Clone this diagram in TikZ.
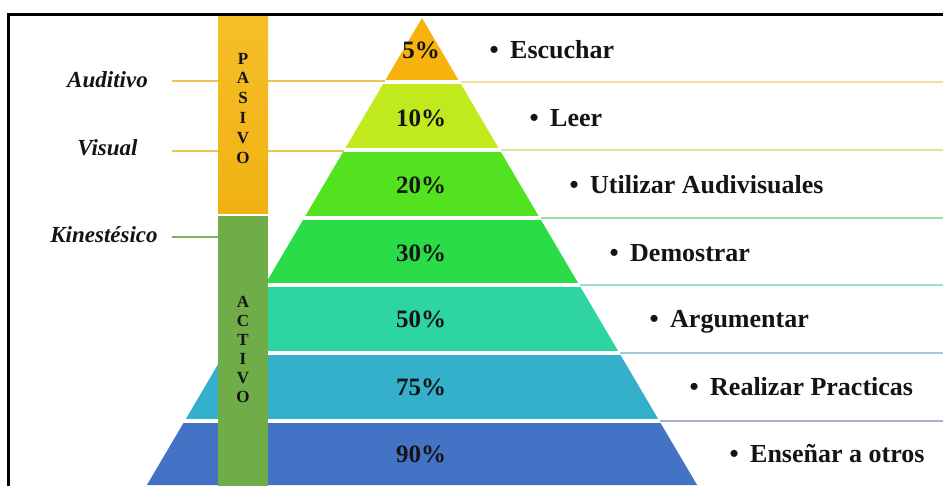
\documentclass[tikz,border=0pt]{standalone}
\usepackage{fontspec}
\setmainfont{Liberation Serif}
\definecolor{bA}{RGB}{247,178,12}
\definecolor{bB}{RGB}{192,234,30}
\definecolor{bC}{RGB}{82,226,32}
\definecolor{bD}{RGB}{42,220,72}
\definecolor{bE}{RGB}{46,212,162}
\definecolor{bF}{RGB}{52,176,202}
\definecolor{bG}{RGB}{68,114,196}
\definecolor{lA}{RGB}{242,222,150}
\definecolor{lB}{RGB}{205,236,160}
\definecolor{lC}{RGB}{155,222,165}
\definecolor{lD}{RGB}{150,226,205}
\definecolor{lE}{RGB}{165,200,215}
\definecolor{lF}{RGB}{165,178,205}
\definecolor{lorange}{RGB}{240,192,90}
\definecolor{lgreen}{RGB}{125,178,95}
\definecolor{barorange}{RGB}{240,178,18}
\definecolor{bartop}{RGB}{246,190,40}
\definecolor{bargreen}{RGB}{112,172,72}
\definecolor{txt}{RGB}{20,20,20}
\begin{document}
\begin{tikzpicture}[x=1pt,y=-1pt,
  pct/.style={font=\bfseries\fontsize{25}{30}\selectfont, anchor=base, inner sep=0pt, text=txt},
  act/.style={font=\bfseries\fontsize{26}{31}\selectfont, anchor=base west, inner sep=0pt, text=txt},
  lbl/.style={font=\bfseries\itshape\fontsize{23}{28}\selectfont, anchor=base, inner sep=0pt, text=txt},
  barletter/.style={font=\bfseries\fontsize{17}{19}\selectfont, anchor=base, inner sep=0pt, text=txt},
  rline/.style={line width=2pt},
]
\useasboundingbox (0,0) rectangle (943,485);
\fill[white] (0,0) rectangle (943,485);

% pyramid bands
\begin{scope}
  \clip (422,18) -- ({422+0.589*467},485) -- ({422-0.589*467},485) -- cycle;
  \fill[bA] (0,0) rectangle (943,80);
  \fill[bB] (0,84) rectangle (943,148);
  \fill[bC] (0,152) rectangle (943,215.5);
  \fill[bD] (0,219.5) rectangle (943,283);
  \fill[bE] (0,287) rectangle (943,350.5);
  \fill[bF] (0,354.5) rectangle (943,418.5);
  \fill[bG] (0,422.5) rectangle (943,486);
\end{scope}

% right guide lines
\foreach \yy/\cc in {82/lA,150/lB,217.5/lC,285/lD,352.5/lE,420.5/lF}
  \draw[rline,\cc] ({422+0.589*(\yy-18)+1},\yy) -- (943,\yy);

% left guide lines
\draw[rline,lorange] (172,81) -- (218,81);
\draw[rline,lorange] (268,81) -- ({422-0.589*63},81);
\draw[rline,lorange] (172,151) -- (218,151);
\draw[rline,lorange] (268,151) -- ({422-0.589*133},151);
\draw[rline,lgreen] (172,237) -- (218,237);

% vertical bar
\shade[top color=bartop, bottom color=barorange] (218,15.5) rectangle (268,213);
\fill[bargreen] (218,216) rectangle (268,486);

\foreach \l [count=\i] in {P,A,S,I,V,O}
  \node[barletter] (pas\i) at (243,{64+19.8*(\i-1)}) {\l};
\foreach \l [count=\i] in {A,C,T,I,V,O}
  \node[barletter] (act\i) at (243,{307+19*(\i-1)}) {\l};

% frame
\draw[line width=2.6pt, line join=miter] (943,14.3) -- (8.7,14.3) -- (8.7,486);

% left labels
\node[lbl] (aud) at (107.5,87) {Auditivo};
\node[lbl] (vis) at (107.5,155) {Visual};
\node[lbl] (kin) at (104,242) {Kinestésico};

% percentages
\node[pct] (p1) at (421,58) {5\%};
\node[pct] (p2) at (421,126) {10\%};
\node[pct] (p3) at (421,193) {20\%};
\node[pct] (p4) at (421,261) {30\%};
\node[pct] (p5) at (421,327) {50\%};
\node[pct] (p6) at (421,395) {75\%};
\node[pct] (p7) at (421,462) {90\%};

% activities
\node[act] (r1) at (489.5,58) {•\hspace{11.4pt}Escuchar};
\node[act] (r2) at (529.5,126) {•\hspace{11.4pt}Leer};
\node[act] (r3) at (569.5,193) {•\hspace{11.4pt}Utilizar Audivisuales};
\node[act] (r4) at (609.5,261) {•\hspace{11.4pt}Demostrar};
\node[act] (r5) at (649.5,327) {•\hspace{11.4pt}Argumentar};
\node[act] (r6) at (689.5,395) {•\hspace{11.4pt}Realizar Practicas};
\node[act] (r7) at (729.5,462) {•\hspace{11.4pt}Enseñar a otros};
\end{tikzpicture}
\end{document}
